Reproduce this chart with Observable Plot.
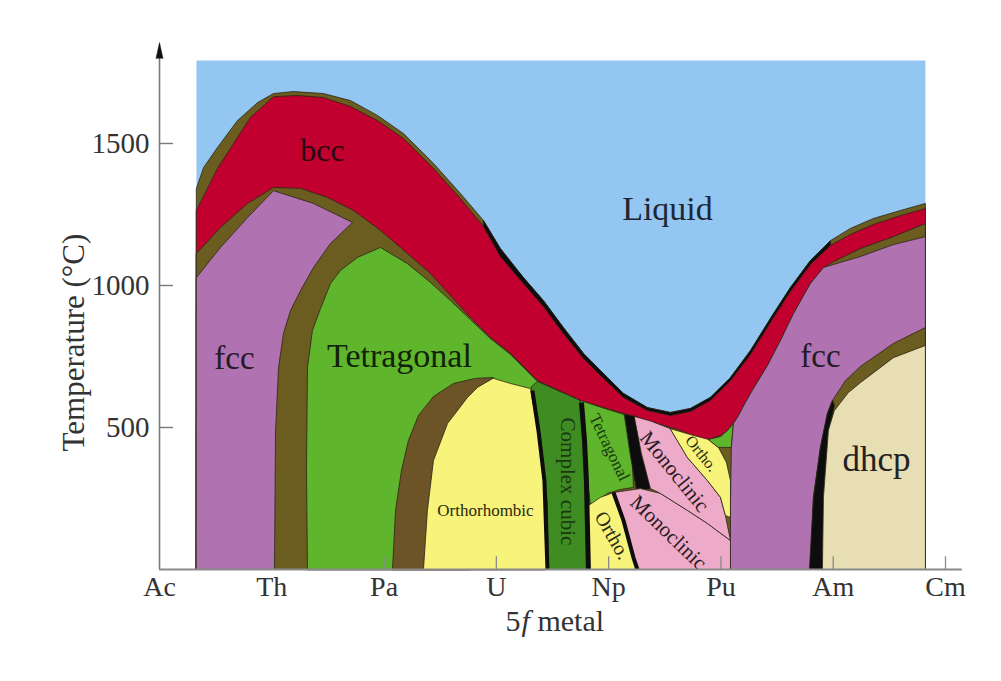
<!DOCTYPE html>
<html><head><meta charset="utf-8">
<script src="https://cdn.jsdelivr.net/npm/d3@7"></script>
<script src="https://cdn.jsdelivr.net/npm/@observablehq/plot@0.6"></script>
<style>
html,body{margin:0;padding:0;background:#fff;}
#chart{width:1001px;height:681px;overflow:hidden;}
</style></head><body><div id="chart"></div>
<script>
// ---- categories / ticks ----
const elements = ["Ac","Th","Pa","U","Np","Pu","Am","Cm"];
const tempTicks = [500, 1000, 1500];

// ---- phase boundaries: [element position, temperature °C] ----
const liquidBox = [[0.329,0],[0.329,1792],[6.821,1792],[6.821,0]];
const liquidus = [[0.329,1342],[0.392,1415],[0.516,1486],[0.695,1581],[0.873,1644],[1.015,1676],[1.193,1683],[1.460,1676],[1.701,1651],[1.941,1599],[2.173,1535],[2.440,1430],[2.680,1324],[2.885,1229],[3.036,1130],[3.241,1028],[3.419,947],[3.597,852],[3.776,761],[3.954,690],[4.132,620],[4.346,570],[4.550,553],[4.728,567],[4.906,606],[5.085,676],[5.263,771],[5.468,901],[5.619,993],[5.797,1088],[5.975,1158],[6.153,1201],[6.358,1236],[6.598,1264],[6.821,1289]];
const bccTop = [[0.329,1264],[0.516,1412],[0.810,1592],[1.015,1665],[1.229,1669],[1.460,1662],[1.701,1630],[1.941,1581],[2.173,1518],[2.440,1412],[2.680,1306],[2.885,1208],[3.036,1102],[3.241,1007],[3.419,926],[3.597,831],[3.776,743],[3.954,673],[4.132,606],[4.346,560],[4.550,542],[4.728,556],[4.906,595],[5.085,665],[5.263,757],[5.468,887],[5.619,979],[5.797,1074],[5.975,1141],[6.153,1180],[6.358,1215],[6.598,1246],[6.821,1271]];
const bccBottom = [[0.329,1113],[0.543,1204],[0.784,1289],[1.015,1345],[1.256,1342],[1.496,1310],[1.728,1264],[1.968,1194],[2.208,1113],[2.413,1042],[2.769,887],[2.947,817],[3.126,761],[3.366,665],[3.749,595],[4.194,542],[4.613,493],[4.862,454],[4.996,472],[5.058,489],[5.147,535],[5.218,588],[5.289,637],[5.414,718],[5.530,806],[5.646,901],[5.797,1007],[5.913,1063],[6.002,1084],[6.242,1130],[6.536,1172],[6.821,1218]];
const fccAmTop = [[6.002,1074],[6.242,1102],[6.536,1144],[6.821,1172]];
const fccTh = [[0.329,1028],[0.543,1134],[0.784,1239],[1.015,1334],[1.371,1289],[1.719,1222],[1.523,1148],[1.371,1063],[1.256,982],[1.167,912],[1.104,831],[1.060,711],[1.033,479],[1.024,0],[0.329,0]];
const tetPa = [[1.318,0],[1.309,349],[1.318,711],[1.362,842],[1.434,919],[1.523,1007],[1.612,1053],[1.763,1099],[1.968,1134],[2.208,1077],[2.413,1011],[2.591,947],[2.769,880],[2.947,813],[3.126,757],[3.366,662],[3.437,0]];
const paRing = [[2.075,0],[2.102,208],[2.155,349],[2.217,454],[2.306,542],[2.440,609],[2.618,655],[2.814,673],[2.974,676],[2.769,0]];
const orthoU = [[2.974,673],[3.126,655],[3.304,637],[3.366,500],[3.419,324],[3.455,0],[2.351,0],[2.386,208],[2.440,384],[2.565,514],[2.743,606],[2.832,641]];
const complexCubic = [[3.313,644],[3.366,662],[3.526,634],[3.749,595],[3.793,349],[3.820,0],[3.464,0],[3.455,232],[3.393,465]];
const tetNp = [[3.749,595],[3.972,566],[4.194,539],[4.221,289],[4.105,282],[3.989,268],[3.838,225],[3.802,349]];
const orthoNp = [[3.820,225],[3.927,254],[4.043,271],[4.132,173],[4.221,42],[4.256,0],[3.820,0]];
const gapNp = [[4.141,546],[4.248,539],[4.292,408],[4.390,285],[4.248,278],[4.194,401]];
const monoLow = [[4.043,271],[4.283,285],[4.461,268],[4.702,208],[4.880,162],[5.085,102],[5.085,0],[4.256,0],[4.221,42],[4.132,173]];
const monoUp = [[4.230,539],[4.372,523],[4.550,496],[4.702,394],[4.880,313],[4.996,254],[5.040,190],[5.085,102],[4.880,162],[4.702,208],[4.461,268],[4.372,285],[4.292,408]];
const orthoPu = [[4.550,496],[4.728,475],[4.889,458],[4.978,430],[5.049,377],[5.085,313],[5.085,183],[5.040,190],[4.996,254],[4.880,313],[4.702,394]];
const tetPu = [[4.889,458],[4.996,468],[5.058,489],[5.111,514],[5.093,430],[4.978,430]];
const fccPuLeft = [[5.093,430],[5.111,514]];
const fccBottomEdge = [[6.821,0],[5.085,0],[5.085,232]];
const oliveAm = [[5.993,595],[6.109,665],[6.242,715],[6.536,796],[6.821,852],[6.821,0],[5.797,0],[5.824,254],[5.886,430],[5.948,549]];
const gapAm = [[5.993,595],[5.948,549],[5.886,430],[5.824,254],[5.788,0],[5.904,0],[5.913,254],[5.957,489],[6.011,577]];
const dhcpCm = [[6.011,560],[6.135,623],[6.242,658],[6.536,746],[6.821,789],[6.821,0],[5.904,0],[5.913,254],[5.957,489]];
const ccLeftEdge = [[3.321,630],[3.375,489],[3.428,313],[3.455,0]];
const ccRightEdge = [[3.758,588],[3.785,454],[3.802,313],[3.820,0]];
const orthoNpEdge = [[4.043,271],[4.132,173],[4.221,42],[4.256,0]];

// ---- region labels ----
const labelText = ["Liquid","bcc","fcc","Tetragonal","Orthorhombic","Complex cubic","Tetragonal","Ortho.","Monoclinic","Monoclinic","Ortho.","fcc","dhcp"];
const labelX = [4.524,1.451,0.668,2.137,2.903,3.633,4.007,4.034,4.586,4.533,4.826,5.886,6.385];
const labelT = [1268,1475,743,750,209,310,430,120,345,130,408,750,387];

// ---- styles (kept apart from data) ----
const labelSize = [34,32,33,34,17,21,17,20,21,21,16,33,35];
const labelAngle = [0,0,0,0,0,90,64,60,51,44,51,0,0];
const labelColor = ["#1e2633","#2a0610","#241a26","#112208","#2a2a10","#173a10","#173a10","#2a2a10","#2a1a22","#2a1a22","#2a2a10","#241a26","#222"];
const C = {liquid:"#93c6f1", olive:"#6b5c20", brown:"#6c5426", bcc:"#c1002f", fcc:"#b072b0",
  tet:"#5fb52b", cc:"#3f8c22", ortho:"#f8f37a", mono:"#eeaac9", dhcp:"#e8deb3", black:"#0d0d0d"};

const base = [[6.821,0],[0.329,0]];
const blackEnvelope = liquidus.filter(d => d[0] >= 2.88 && d[0] <= 6.0).concat([[5.975,0],[2.885,0]]);
const fccPu = fccPuLeft.concat(bccBottom.filter(d => d[0] >= 5.14 && d[0] <= 6.0), fccAmTop, fccBottomEdge);

const layers = [
  [liquidBox, C.liquid, "none"],
  [liquidus.concat(base), C.olive],
  [blackEnvelope, C.black],
  [bccTop.concat(base), C.bcc],
  [bccBottom.concat(base), C.olive],
  [fccTh, C.fcc],
  [tetPa, C.tet],
  [paRing, C.brown],
  [orthoU, C.ortho],
  [complexCubic, C.cc],
  [tetNp, C.tet],
  [orthoNp, C.ortho],
  [gapNp, C.black],
  [monoLow, C.mono],
  [monoUp, C.mono],
  [orthoPu, C.ortho],
  [tetPu, C.tet],
  [fccPu, C.fcc],
  [oliveAm, C.olive],
  [gapAm, C.black],
  [dhcpCm, C.dhcp]
];

const labels = labelText.map((t, i) => ({t, x: labelX[i], y: labelT[i], s: labelSize[i], a: labelAngle[i], c: labelColor[i]}));

const marks = [];
for (const [pts, fill, stroke] of layers) {
  marks.push(Plot.line(pts, {x: d => d[0], y: d => d[1], curve: "linear-closed", fill,
    stroke: stroke || "#2a2616", strokeWidth: 0.8, strokeLinejoin: "round"}));
}
for (const [pts, w] of [[ccLeftEdge, 4], [ccRightEdge, 5], [orthoNpEdge, 4]]) {
  marks.push(Plot.line(pts, {x: d => d[0], y: d => d[1], stroke: C.black, strokeWidth: w, strokeLinecap: "butt"}));
}
for (const l of labels) {
  marks.push(Plot.text([l], {x: "x", y: "y", text: "t", fontSize: l.s, rotate: l.a, fill: l.c,
    textAnchor: "middle", lineAnchor: "middle"}));
}
// axes
marks.push(
  Plot.ruleY([0], {x1: 0, x2: 7.15, stroke: "#8a8a8a", strokeWidth: 2}),
  Plot.ruleX(d3.range(1, 8), {y1: 0, y2: 45, stroke: "#8a8a8a", strokeWidth: 1.3}),
  Plot.ruleX([0], {y1: 0, y2: 1800, stroke: "#7a7a7a", strokeWidth: 1.6}),
  Plot.ruleY(tempTicks, {x1: 0, x2: 0.125, stroke: "#7a7a7a", strokeWidth: 1.4}),
  Plot.vector([0], {x: 0, y: 1799, length: 16, r: 3.5, shape: "spike", anchor: "start", rotate: 0, fill: "#111", stroke: "#111", strokeWidth: 0.5}),
  Plot.axisX(d3.range(8), {tickFormat: i => elements[i], tickSize: 0, tickPadding: 7, fontSize: 28, color: "#333", label: null}),
  Plot.axisY(tempTicks, {tickFormat: d => String(d), tickSize: 0, tickPadding: 10, fontSize: 29, color: "#333", label: null}),
  Plot.text(["Temperature (°C)"], {x: -0.765, y: 799, rotate: -90, fontSize: 31, fill: "#333", textAnchor: "middle", lineAnchor: "middle"}),
  Plot.text(["5"], {x: 3.526, y: -182, dx: -50, fontSize: 30, fill: "#333", textAnchor: "start", lineAnchor: "middle"}),
  Plot.text(["f"], {x: 3.526, y: -182, dx: -34, fontSize: 30, fill: "#333", textAnchor: "start", lineAnchor: "middle", fontStyle: "italic"}),
  Plot.text(["metal"], {x: 3.526, y: -182, dx: -18, fontSize: 30, fill: "#333", textAnchor: "start", lineAnchor: "middle"})
);

const chart = Plot.plot({
  width: 1001, height: 681,
  marginLeft: 159, marginRight: 56, marginTop: 44, marginBottom: 112,
  x: {domain: [0, 7], range: [159, 945]},
  y: {domain: [0, 1850], range: [569, 43.6]},
  style: {fontFamily: "'Liberation Serif', 'DejaVu Serif', serif", background: "#fff", overflow: "visible"},
  marks
});
document.getElementById("chart").appendChild(chart);
</script></body></html>
